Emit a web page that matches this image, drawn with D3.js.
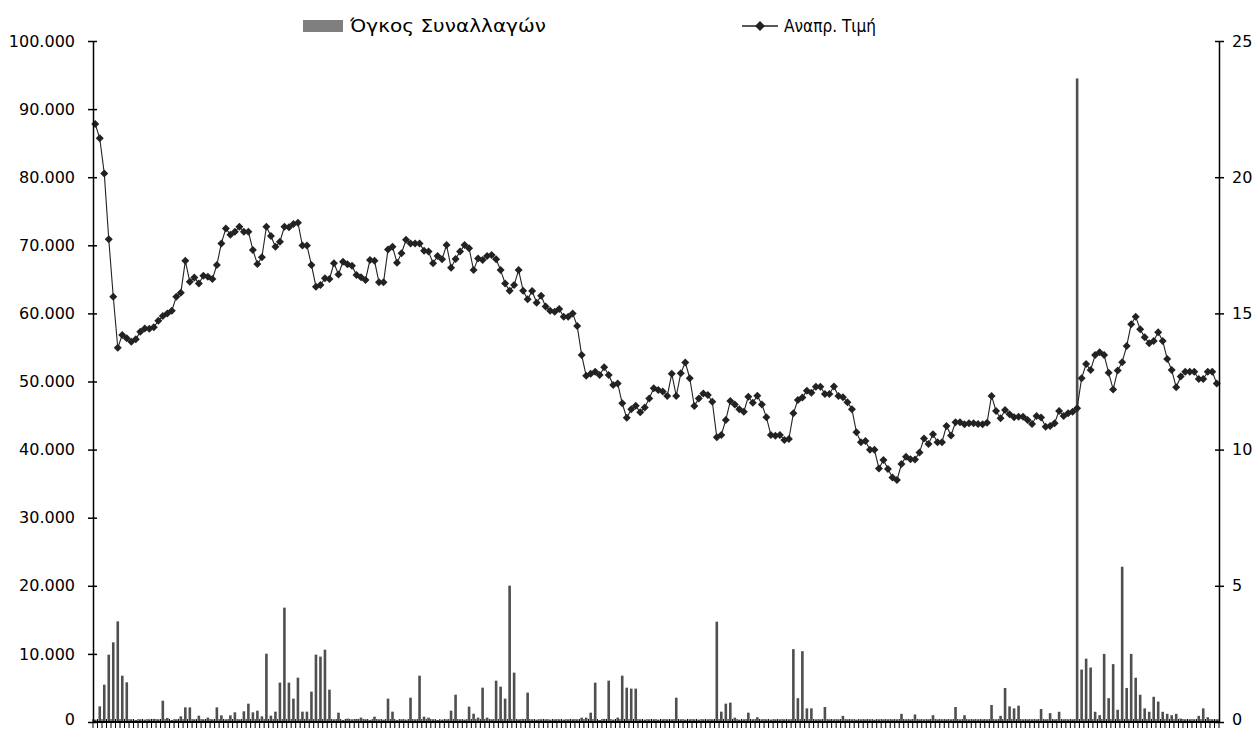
<!DOCTYPE html>
<html><head><meta charset="utf-8">
<script src="https://cdn.jsdelivr.net/npm/d3@7"></script>
<style>body{margin:0;background:#fff;}svg{display:block;}svg text{font-family:"DejaVu Sans",Verdana,sans-serif;}</style>
</head><body><svg id="c" width="1253" height="730"></svg>
<script>
const seriesNames = ["Όγκος Συναλλαγών", "Αναπρ. Τιμή"];
const leftTicks = [0,10000,20000,30000,40000,50000,60000,70000,80000,90000,100000];
const leftTickLabels = ["0","10.000","20.000","30.000","40.000","50.000","60.000","70.000","80.000","90.000","100.000"];
const rightTicks = [0,5,10,15,20,25];
const price = [21.95,21.43,20.14,17.72,15.61,13.74,14.21,14.09,13.96,14.05,14.33,14.45,14.44,14.49,14.73,14.90,15.00,15.10,15.61,15.76,
16.93,16.16,16.32,16.10,16.38,16.35,16.26,16.78,17.57,18.12,17.89,18.00,18.18,18.00,18.00,17.33,16.81,17.06,18.18,17.84,
17.45,17.63,18.18,18.16,18.28,18.33,17.49,17.49,16.78,15.98,16.04,16.29,16.26,16.84,16.43,16.90,16.80,16.75,16.41,16.33,
16.23,16.96,16.93,16.14,16.14,17.35,17.45,16.86,17.21,17.70,17.57,17.57,17.57,17.30,17.27,16.84,17.11,16.99,17.51,16.68,
17.00,17.27,17.51,17.39,16.59,17.02,16.96,17.11,17.14,16.99,16.59,16.10,15.83,16.04,16.59,15.83,15.52,15.82,15.39,15.65,
15.25,15.10,15.06,15.16,14.88,14.88,15.00,14.54,13.47,12.71,12.78,12.86,12.74,13.02,12.74,12.37,12.43,11.70,11.17,11.48,
11.61,11.37,11.55,11.88,12.25,12.19,12.13,11.97,12.78,11.97,12.80,13.20,12.62,11.60,11.88,12.06,12.00,11.76,10.45,10.54,
11.09,11.78,11.66,11.48,11.39,11.94,11.72,11.98,11.66,11.19,10.54,10.51,10.54,10.35,10.39,11.33,11.82,11.91,12.16,12.09,
12.31,12.31,12.04,12.04,12.32,11.97,11.92,11.74,11.48,10.64,10.27,10.32,9.99,9.99,9.31,9.62,9.29,8.98,8.88,9.47,
9.74,9.65,9.64,9.89,10.41,10.21,10.56,10.27,10.27,10.87,10.52,11.00,11.00,10.93,10.97,10.97,10.94,10.93,10.99,11.97,
11.42,11.15,11.45,11.30,11.19,11.21,11.21,11.09,10.94,11.23,11.18,10.84,10.87,10.97,11.42,11.23,11.33,11.39,11.52,12.62,
13.14,12.92,13.47,13.57,13.47,12.82,12.21,12.90,13.21,13.80,14.60,14.88,14.42,14.12,13.90,13.99,14.31,13.99,13.33,12.92,
12.29,12.68,12.86,12.86,12.86,12.59,12.59,12.86,12.86,12.43];
const volume = [350,2300,5480,9890,11700,14780,6800,5830,400,300,400,350,400,450,400,3130,590,300,400,830,
2150,2150,400,930,400,640,400,2150,980,400,980,1420,400,1570,2690,1420,1660,830,10030,930,
1520,5780,16790,5780,3430,6510,1520,1520,4460,9890,9600,10620,4750,400,1370,300,500,400,450,640,
400,300,780,400,350,3430,1520,300,400,350,3570,400,6800,780,640,400,300,350,400,1660,
4010,400,350,2250,1220,640,5040,640,400,6070,5190,3430,20020,7250,400,450,4310,400,350,400,
400,350,400,400,350,400,400,400,640,640,1370,5780,300,450,6070,350,640,6800,5040,4900,
4900,400,350,400,400,350,400,400,400,3570,400,350,400,400,350,400,400,400,14730,1520,
2690,2840,640,350,400,1370,400,700,400,400,350,400,400,400,400,10700,3500,10400,2000,2000,
400,400,2200,400,400,400,900,400,400,350,400,400,400,350,400,400,400,400,400,1200,
400,400,1100,400,400,400,1000,400,400,400,400,2200,400,1000,400,400,400,400,400,2500,
400,900,5000,2300,2000,2400,400,400,400,400,1900,400,1300,400,1500,400,400,400,94500,7700,
9300,8000,1500,1000,10000,3500,8500,1800,22800,5000,10000,6500,4000,2000,1500,3700,3000,1500,1200,1000,
1200,500,400,400,400,900,2000,700,400,400];
const categories = d3.range(price.length);

const FONT = '"DejaVu Sans", Verdana, sans-serif';
const svg = d3.select("#c");
const L = 93, R = 1219, T = 41, B = 722;
const x = d3.scaleBand().domain(categories).range([L, R]).paddingInner(0).paddingOuter(0);
const yL = d3.scaleLinear().domain([0, 100000]).range([B, T]);
const yR = d3.scaleLinear().domain([0, 25]).range([B, T]);
const cx = i => x(i) + x.bandwidth()/2;
const diamond = s => `M0,${-s}L${s},0L0,${s}L${-s},0Z`;

// bars
const bw = 2.6;
svg.append("g").selectAll("rect").data(volume).enter().append("rect")
  .attr("x", (d,i) => cx(i) - bw/2)
  .attr("width", bw)
  .attr("y", d => yL(d))
  .attr("height", d => B - yL(d))
  .attr("fill", "#4f4f4f");

// line
const line = d3.line().x((d,i) => cx(i)).y(d => yR(d));
svg.append("path").datum(price).attr("d", line).attr("fill","none").attr("stroke","#222").attr("stroke-width",1.1);
svg.append("g").selectAll("path").data(price).enter().append("path")
  .attr("d", diamond(4))
  .attr("transform", (d,i) => `translate(${cx(i)},${yR(d)})`)
  .attr("fill", "#222");

// axes
const leftAxis = d3.axisLeft(yL).tickValues(leftTicks).tickFormat((d,i) => leftTickLabels[i]).tickSizeInner(0).tickSizeOuter(0).tickPadding(18);
const gl = svg.append("g").attr("transform", `translate(${L},0)`).call(leftAxis).attr("font-family", FONT);
gl.select(".domain").attr("stroke","#000").attr("stroke-width",1.5);
gl.selectAll(".tick text").attr("font-size", 16).attr("fill","#000").attr("font-family", FONT)
  .attr("y", d => d === 0 ? -2.5 : 0);
gl.selectAll(".tick").append("line").attr("x1",-5).attr("x2",4).attr("stroke","#000").attr("stroke-width",1.5);

const rightAxis = d3.axisRight(yR).tickValues(rightTicks).tickSizeInner(0).tickSizeOuter(0).tickPadding(13);
const gr = svg.append("g").attr("transform", `translate(${R},0)`).call(rightAxis).attr("font-family", FONT);
gr.select(".domain").attr("stroke","#000").attr("stroke-width",1.5);
gr.selectAll(".tick text").attr("font-size", 16).attr("fill","#000").attr("font-family", FONT)
  .attr("y", d => d === 0 ? -2.5 : 0);
gr.selectAll(".tick").append("line").attr("x1",-4).attr("x2",5).attr("stroke","#000").attr("stroke-width",1.5);

// bottom axis
const gb = svg.append("g");
gb.append("line").attr("x1", L).attr("x2", R).attr("y1", B).attr("y2", B).attr("stroke","#000").attr("stroke-width",2);
const bounds = categories.map(i => x(i)).concat([R]);
gb.selectAll("line.tk").data(bounds).enter().append("line").attr("class","tk")
  .attr("x1", d => d).attr("x2", d => d).attr("y1", B - 3).attr("y2", B + 6)
  .attr("stroke","#000").attr("stroke-width",1);

// legend
const lg = svg.append("g").attr("font-family", FONT);
lg.append("rect").attr("x", 303).attr("y", 20).attr("width", 40).attr("height", 12).attr("fill", "#7f7f7f");
lg.append("text").attr("x", 350).attr("y", 32).attr("font-size", 18.5).attr("font-family", FONT)
  .attr("textLength", 196).attr("lengthAdjust", "spacingAndGlyphs").text(seriesNames[0]);
lg.append("line").attr("x1", 742).attr("x2", 778).attr("y1", 26).attr("y2", 26).attr("stroke","#222").attr("stroke-width",1.5);
lg.append("path").attr("d", diamond(5)).attr("transform","translate(760,26)").attr("fill","#222");
lg.append("text").attr("x", 784).attr("y", 32).attr("font-size", 17).attr("font-family", FONT)
  .attr("textLength", 92).attr("lengthAdjust", "spacingAndGlyphs").text(seriesNames[1]);
</script></body></html>
